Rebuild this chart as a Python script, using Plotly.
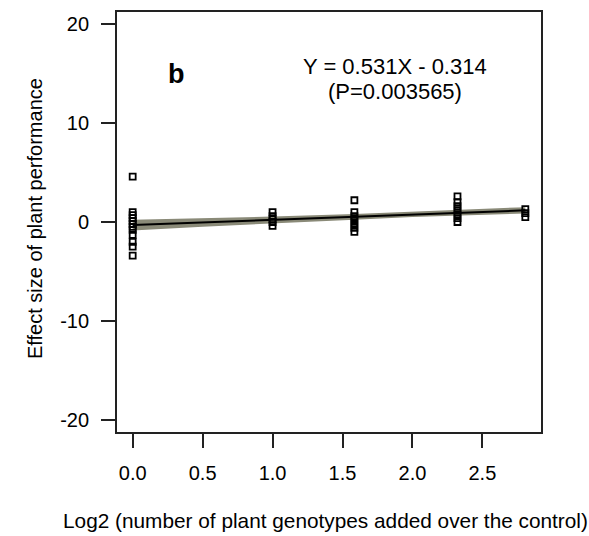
import plotly.graph_objects as go

# Data
x0 = [0.0] * 12
y0 = [4.6, 1.0, 0.7, 0.4, 0.1, -0.2, -0.5, -0.8, -1.3, -2.0, -2.5, -3.4]
x1 = [1.0] * 5
y1 = [1.0, 0.6, 0.3, 0.0, -0.4]
x2 = [1.585] * 7
y2 = [2.2, 1.0, 0.6, 0.2, -0.2, -0.6, -1.0]
x3 = [2.322] * 7
y3 = [2.6, 2.0, 1.6, 1.2, 0.8, 0.4, 0.0]
x4 = [2.807] * 3
y4 = [1.3, 0.9, 0.5]

slope = 0.531
intercept = -0.314
line_x = [0.0, 2.807]

band_x = [0.0, 0.5, 1.0, 1.585, 2.0, 2.322, 2.807]
band_lo = [-0.85, -0.47, -0.12, 0.24, 0.50, 0.66, 0.86]
band_hi = [0.22, 0.38, 0.55, 0.82, 1.06, 1.22, 1.50]

xticks = [0.0, 0.5, 1.0, 1.5, 2.0, 2.5]
xticklabels = ["0.0", "0.5", "1.0", "1.5", "2.0", "2.5"]
yticks = [-20, -10, 0, 10, 20]
yticklabels = ["-20", "-10", "0", "10", "20"]

FONT = "Liberation Sans, Arial, sans-serif"

fig = go.Figure()

# confidence band
fig.add_trace(go.Scatter(
    x=band_x + band_x[::-1], y=band_hi + band_lo[::-1],
    fill="toself", fillcolor="#8a8a78", line=dict(width=0),
    mode="lines", hoverinfo="skip", showlegend=False))

# regression line
fig.add_trace(go.Scatter(
    x=line_x, y=[slope * v + intercept for v in line_x],
    mode="lines", line=dict(color="black", width=2), showlegend=False))

xs = x0 + x1 + x2 + x3 + x4
ys = y0 + y1 + y2 + y3 + y4
fig.add_trace(go.Scatter(
    x=xs, y=ys, mode="markers",
    marker=dict(symbol="square-open", size=6, color="black", line=dict(width=1.8)),
    showlegend=False))

W, H = 589, 536
L, R, T, B = 117, 48, 10, 104
pw, ph = W - L - R, H - T - B

fig.update_layout(
    width=W, height=H,
    margin=dict(l=L, r=R, t=T, b=B),
    plot_bgcolor="white", paper_bgcolor="white",
    font=dict(family=FONT, size=20, color="black"),
    xaxis=dict(range=[-0.112, 2.919], tickvals=xticks, ticktext=xticklabels,
               ticks="outside", ticklen=14, tickwidth=1.5, tickcolor="#222",
               showline=True, linecolor="#222", linewidth=1.8, mirror=True,
               showgrid=False, zeroline=False, tickfont=dict(size=20),
               ticklabelstandoff=8),
    yaxis=dict(range=[-21.25, 21.25], tickvals=yticks, ticktext=yticklabels,
               ticks="outside", ticklen=14, tickwidth=1.5, tickcolor="#222",
               showline=True, linecolor="#222", linewidth=1.8, mirror=True,
               showgrid=False, zeroline=False, tickfont=dict(size=20),
               ticklabelstandoff=8),
    annotations=[
        dict(text="Effect size of plant performance", textangle=-90,
             xref="paper", yref="paper", x=(35 - L) / pw, y=(T + ph - 218) / ph,
             showarrow=False, font=dict(size=20), xanchor="center", yanchor="middle"),
        dict(text="Log2 (number of plant genotypes added over the control)",
             xref="paper", yref="paper", x=(325 - L) / pw, y=(T + ph - 521) / ph,
             showarrow=False, font=dict(size=20.8), xanchor="center", yanchor="middle"),
        dict(text="<b>b</b>", xref="paper", yref="paper",
             x=(176 - L) / pw, y=(T + ph - 72) / ph,
             showarrow=False, font=dict(size=27), xanchor="center", yanchor="middle"),
        dict(text="Y = 0.531X - 0.314", xref="paper", yref="paper",
             x=(395 - L) / pw, y=(T + ph - 65) / ph,
             showarrow=False, font=dict(size=22), xanchor="center", yanchor="middle"),
        dict(text="(P=0.003565)", xref="paper", yref="paper",
             x=(395 - L) / pw, y=(T + ph - 90) / ph,
             showarrow=False, font=dict(size=22), xanchor="center", yanchor="middle"),
    ],
)

fig.write_html("out.html")
